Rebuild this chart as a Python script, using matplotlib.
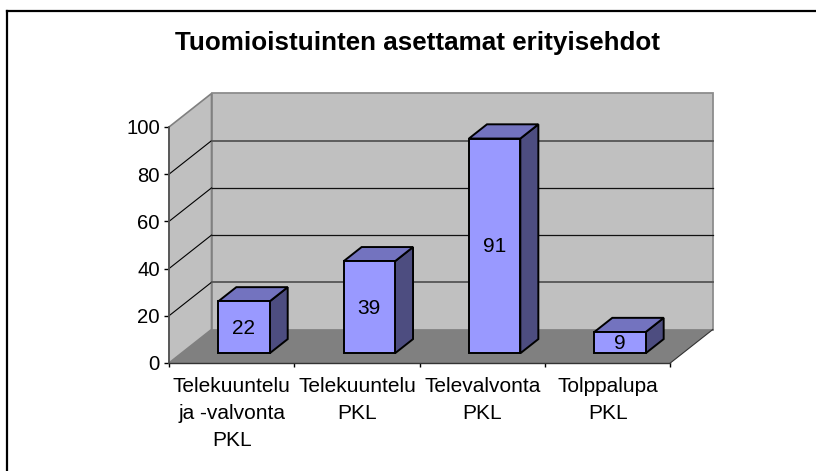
import matplotlib
matplotlib.use('Agg')
import matplotlib.pyplot as plt
from matplotlib.lines import Line2D
from matplotlib.patches import Polygon

plt.rcParams['font.family'] = ['Liberation Sans', 'DejaVu Sans']

categories = ['Telekuuntelu\nja -valvonta\nPKL', 'Telekuuntelu\nPKL', 'Televalvonta\nPKL', 'Tolppalupa\nPKL']
values = [22, 39, 91, 9]
yticks = [0, 20, 40, 60, 80, 100]
title = 'Tuomioistuinten asettamat erityisehdot'

W, H = 816, 471
fig = plt.figure(figsize=(W / 100, H / 100), dpi=100)
fig.patch.set_facecolor('white')

# front plane of the 3d box, in pixels
left, right, top, bottom = 169, 670.3, 127, 363
ax = fig.add_axes([left / W, 1 - bottom / H, (right - left) / W, (bottom - top) / H])
ax.set_xlim(0, 4)
ax.set_ylim(0, 100)
ax.patch.set_visible(False)

# depth offset of the back wall in data units
dx = 42.5 / ((right - left) / 4)
dy = 33.5 / ((bottom - top) / 100)


def pr(x, y, d=0):
    return (x + dx * d, y + dy * d)


def face(pts, color, edge='none', lw=0.0, z=1):
    ax.add_patch(Polygon([pr(*p) for p in pts], closed=True, facecolor=color, edgecolor=edge,
                         linewidth=lw, zorder=z, clip_on=False, joinstyle='miter'))


# walls and floor
face([(0, 0, 1), (4, 0, 1), (4, 100, 1), (0, 100, 1)], '#c0c0c0', '#8c8c8c', 1.3)
face([(0, 0, 0), (0, 0, 1), (0, 100, 1), (0, 100, 0)], '#c0c0c0', '#808080', 1.2)
for v in yticks[1:-1]:
    ax.plot(*zip(pr(0, v, 0), pr(0, v, 1)), color='black', lw=0.8, zorder=2, clip_on=False)
    # the 20 and 80 lines come out softer and wider in the original
    soft = v in (20, 80)
    ax.plot(*zip(pr(0, v, 1), pr(4, v, 1)), color='#555555' if soft else '#111111',
            lw=1.3 if soft else 0.9, zorder=2, clip_on=False)
face([(0, 0, 0), (4, 0, 0), (4, 0, 1), (0, 0, 1)], '#808080', z=3)
ax.plot(*zip(pr(4, 0, 0), pr(4, 0, 1)), color='#333333', lw=0.8, zorder=3, clip_on=False)

# bars
bar_w = 0.41
d0, d1 = 0.29, 0.714
for i, v in enumerate(values):
    x0 = i + 0.5 - bar_w / 2
    x1 = x0 + bar_w
    face([(x1, 0, d0), (x1, 0, d1), (x1, v, d1), (x1, v, d0)], '#4d4d80', 'black', 1.4, 4)
    face([(x0, v, d0), (x1, v, d0), (x1, v, d1), (x0, v, d1)], '#7373bf', 'black', 1.4, 4)
    face([(x0, 0, d0), (x1, 0, d0), (x1, v, d0), (x0, v, d0)], '#9999ff', 'black', 1.4, 5)
    cx, cy = pr(i + 0.5, v / 2, d0)
    ax.annotate(str(v), (cx, cy), xytext=(0, -0.7), textcoords='offset points', ha='center', va='center',
                fontsize=15, color='black', zorder=6)

# axes
for s in ['top', 'right']:
    ax.spines[s].set_visible(False)
ax.spines['left'].set_color('#555555')
ax.spines['left'].set_linewidth(1.3)
ax.spines['bottom'].set_color('#333333')
ax.spines['bottom'].set_linewidth(1.0)
for s in ax.spines.values():
    s.set_zorder(7)
ax.set_yticks(yticks)
ax.set_xticks(range(5))
ax.set_xticklabels([])
ax.tick_params(axis='y', length=3.6, width=1, color='black', labelsize=14.6, pad=2.9)
ax.tick_params(axis='x', length=3, width=1, color='black')
for i, c in enumerate(categories):
    ax.annotate(c, (i + 0.5, 0), xycoords='data', xytext=(0, -10), textcoords='offset points',
                ha='center', va='top', fontsize=15, linespacing=1.55, clip_on=False)

fig.text(418 / W, 1 - 43 / H, title, ha='center', va='center', fontsize=18.7, fontweight='bold')

# chart frame
fig.add_artist(Line2D([7 / W, 7 / W], [0, 1 - 11 / H], color='black', lw=1.6))
fig.add_artist(Line2D([7 / W, 1], [1 - 11 / H, 1 - 11 / H], color='black', lw=1.6))

fig.savefig('out.png', dpi=100)
